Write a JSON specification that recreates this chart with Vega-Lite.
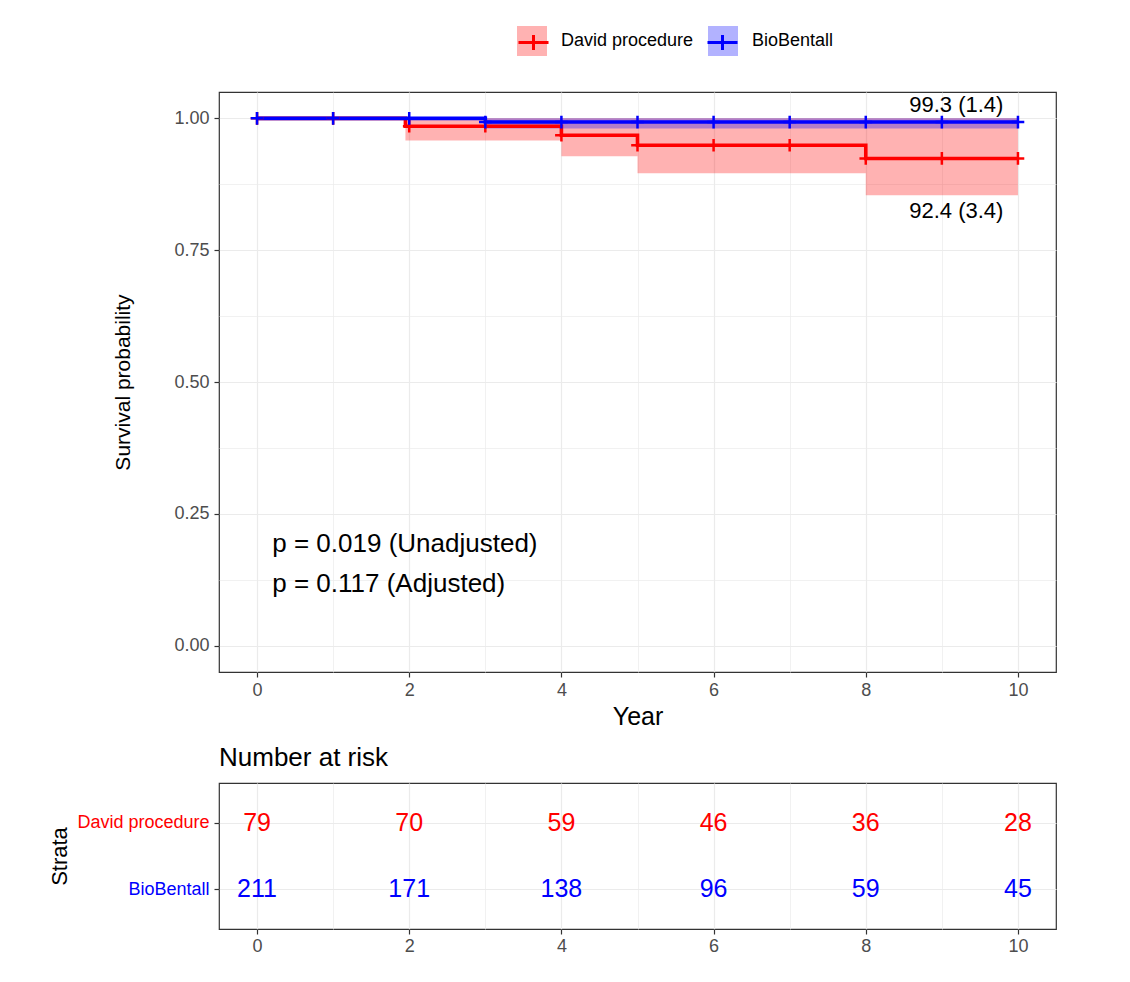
{
  "$schema": "https://vega.github.io/schema/vega-lite/v6.json",
  "padding": {"left": 48, "top": 25, "right": 10, "bottom": 10},
  "background": "white",
  "spacing": 14,
  "config": {
    "font": "Liberation Sans",
    "view": {"stroke": "#333333", "strokeWidth": 1.2},
    "axis": {
      "domain": false,
      "gridColor": "#ebebeb",
      "tickColor": "#333333",
      "tickSize": 5,
      "tickWidth": 1.2,
      "labelColor": "#4d4d4d",
      "labelFont": "Liberation Sans",
      "titleFont": "Liberation Sans",
      "titleColor": "#000000",
      "titleFontWeight": "normal",
      "labelOverlap": false
    },
    "title": {"font": "Liberation Sans", "fontWeight": "normal", "color": "#000000"}
  },
  "datasets": {
    "band": [
      {"group": "David procedure", "time": 1.95, "lower": 0.958, "upper": 1.0},
      {"group": "David procedure", "time": 4, "lower": 0.928, "upper": 1.0},
      {"group": "David procedure", "time": 5, "lower": 0.896, "upper": 1.0},
      {"group": "David procedure", "time": 8, "lower": 0.854, "upper": 1.0},
      {"group": "David procedure", "time": 10, "lower": 0.854, "upper": 1.0},
      {"group": "BioBentall", "time": 3, "lower": 0.981, "upper": 1.0},
      {"group": "BioBentall", "time": 10, "lower": 0.981, "upper": 1.0}
    ],
    "curve": [
      {"group": "David procedure", "time": 0, "surv": 1.0},
      {"group": "David procedure", "time": 1.95, "surv": 0.985},
      {"group": "David procedure", "time": 4, "surv": 0.968},
      {"group": "David procedure", "time": 5, "surv": 0.949},
      {"group": "David procedure", "time": 8, "surv": 0.924},
      {"group": "David procedure", "time": 10, "surv": 0.924},
      {"group": "BioBentall", "time": 0, "surv": 1.0},
      {"group": "BioBentall", "time": 3, "surv": 0.993},
      {"group": "BioBentall", "time": 10, "surv": 0.993}
    ],
    "censor": [
      {"group": "David procedure", "time": 0, "surv": 1.0},
      {"group": "David procedure", "time": 1, "surv": 1.0},
      {"group": "David procedure", "time": 2, "surv": 0.985},
      {"group": "David procedure", "time": 3, "surv": 0.985},
      {"group": "David procedure", "time": 4, "surv": 0.968},
      {"group": "David procedure", "time": 5, "surv": 0.949},
      {"group": "David procedure", "time": 6, "surv": 0.949},
      {"group": "David procedure", "time": 7, "surv": 0.949},
      {"group": "David procedure", "time": 8, "surv": 0.924},
      {"group": "David procedure", "time": 9, "surv": 0.924},
      {"group": "David procedure", "time": 10, "surv": 0.924},
      {"group": "BioBentall", "time": 0, "surv": 1.0},
      {"group": "BioBentall", "time": 1, "surv": 1.0},
      {"group": "BioBentall", "time": 2, "surv": 1.0},
      {"group": "BioBentall", "time": 3, "surv": 0.993},
      {"group": "BioBentall", "time": 4, "surv": 0.993},
      {"group": "BioBentall", "time": 5, "surv": 0.993},
      {"group": "BioBentall", "time": 6, "surv": 0.993},
      {"group": "BioBentall", "time": 7, "surv": 0.993},
      {"group": "BioBentall", "time": 8, "surv": 0.993},
      {"group": "BioBentall", "time": 9, "surv": 0.993},
      {"group": "BioBentall", "time": 10, "surv": 0.993}
    ],
    "endlabels": [
      {"time": 9.19, "surv": 1.025, "label": "99.3 (1.4)"},
      {"time": 9.19, "surv": 0.824, "label": "92.4 (3.4)"}
    ],
    "pvalues": [
      {"time": 0.2, "surv": 0.193, "label": "p = 0.019 (Unadjusted)"},
      {"time": 0.2, "surv": 0.117, "label": "p = 0.117 (Adjusted)"}
    ],
    "risk": [
      {"group": "David procedure", "time": 0, "n": 79},
      {"group": "David procedure", "time": 2, "n": 70},
      {"group": "David procedure", "time": 4, "n": 59},
      {"group": "David procedure", "time": 6, "n": 46},
      {"group": "David procedure", "time": 8, "n": 36},
      {"group": "David procedure", "time": 10, "n": 28},
      {"group": "BioBentall", "time": 0, "n": 211},
      {"group": "BioBentall", "time": 2, "n": 171},
      {"group": "BioBentall", "time": 4, "n": 138},
      {"group": "BioBentall", "time": 6, "n": 96},
      {"group": "BioBentall", "time": 8, "n": 59},
      {"group": "BioBentall", "time": 10, "n": 45}
    ]
  },
  "resolve": {
    "scale": {"fill": "independent", "stroke": "independent", "color": "independent"},
    "legend": {"fill": "independent", "stroke": "independent", "color": "independent"}
  },
  "vconcat": [
    {
      "width": 837,
      "height": 580,
      "encoding": {
        "x": {
          "field": "time",
          "type": "quantitative",
          "scale": {"domain": [-0.5, 10.5], "nice": false, "zero": false},
          "axis": {
            "values": [0, 1, 2, 3, 4, 5, 6, 7, 8, 9, 10],
            "labelExpr": "datum.value % 2 == 0 ? datum.label : ''",
            "tickOpacity": {"condition": {"test": "datum.value % 2 != 0", "value": 0}, "value": 1},
            "gridWidth": {"condition": {"test": "datum.value % 2 != 0", "value": 0.7}, "value": 1.2},
            "title": "Year",
            "titleFontSize": 25,
            "labelFontSize": 18,
            "labelPadding": 4,
            "titlePadding": 5
          }
        },
        "y": {
          "field": "surv",
          "type": "quantitative",
          "scale": {"domain": [-0.05, 1.05], "nice": false, "zero": false},
          "axis": {
            "values": [0, 0.125, 0.25, 0.375, 0.5, 0.625, 0.75, 0.875, 1],
            "labelExpr": "(datum.value * 4) % 1 == 0 ? format(datum.value, '.2f') : ''",
            "tickOpacity": {"condition": {"test": "(datum.value * 4) % 1 != 0", "value": 0}, "value": 1},
            "gridWidth": {"condition": {"test": "(datum.value * 4) % 1 != 0", "value": 0.7}, "value": 1.2},
            "title": "Survival probability",
            "titleFontSize": 21,
            "labelFontSize": 18,
            "labelPadding": 5,
            "titlePadding": 40
          }
        }
      },
      "layer": [
        {
          "data": {"name": "band"},
          "mark": {"type": "area", "interpolate": "step-after"},
          "encoding": {
            "y": {"field": "lower", "type": "quantitative"},
            "y2": {"field": "upper"},
            "fill": {
              "field": "group",
              "type": "nominal",
              "scale": {"domain": ["David procedure", "BioBentall"], "range": ["rgba(255,0,0,0.3)", "rgba(0,0,255,0.3)"]},
              "legend": {
                "orient": "none",
                "legendX": 298,
                "legendY": -66,
                "direction": "horizontal",
                "title": null,
                "symbolType": "square",
                "symbolSize": 900,
                "symbolStrokeWidth": 0,
                "labelFontSize": 18,
                "labelColor": "#000000",
                "labelOffset": 14,
                "columnPadding": 14,
                "padding": 0
              }
            }
          }
        },
        {
          "data": {"name": "curve"},
          "mark": {"type": "line", "interpolate": "step-after", "strokeWidth": 3.6},
          "encoding": {
            "stroke": {
              "field": "group",
              "type": "nominal",
              "sort": ["David procedure", "BioBentall"],
              "scale": {"range": ["#ff0000", "#0000ff"]},
              "legend": {
                "orient": "none",
                "legendX": 298,
                "legendY": -66,
                "direction": "horizontal",
                "title": null,
                "symbolType": "M-1,0H1M0,-0.5V0.5",
                "symbolSize": 900,
                "symbolStrokeWidth": 3,
                "symbolFillColor": "transparent",
                "labelExpr": "''",
                "labelFontSize": 18,
                "labelOffset": 14,
                "columnPadding": 137,
                "padding": 0
              }
            }
          }
        },
        {
          "data": {"name": "censor"},
          "mark": {"type": "point", "shape": "M-1,0H1M0,-1V1", "size": 160, "filled": false, "strokeWidth": 2.5, "opacity": 1},
          "encoding": {
            "stroke": {"field": "group", "type": "nominal", "sort": ["David procedure", "BioBentall"]}
          }
        },
        {
          "data": {"name": "endlabels"},
          "mark": {"type": "text", "fontSize": 22, "align": "center", "baseline": "middle", "color": "#000000"},
          "encoding": {"text": {"field": "label"}}
        },
        {
          "data": {"name": "pvalues"},
          "mark": {"type": "text", "fontSize": 26, "align": "left", "baseline": "middle", "color": "#000000"},
          "encoding": {"text": {"field": "label"}}
        }
      ]
    },
    {
      "width": 837,
      "height": 146,
      "data": {"name": "risk"},
      "title": {"text": "Number at risk", "anchor": "start", "fontSize": 26, "offset": 12, "frame": "group"},
      "mark": {"type": "text", "fontSize": 25, "baseline": "middle"},
      "encoding": {
        "x": {
          "field": "time",
          "type": "quantitative",
          "scale": {"domain": [-0.5, 10.5], "nice": false, "zero": false},
          "axis": {
            "values": [0, 1, 2, 3, 4, 5, 6, 7, 8, 9, 10],
            "labelExpr": "datum.value % 2 == 0 ? datum.label : ''",
            "tickOpacity": {"condition": {"test": "datum.value % 2 != 0", "value": 0}, "value": 1},
            "gridWidth": {"condition": {"test": "datum.value % 2 != 0", "value": 0.7}, "value": 1.2},
            "title": null,
            "labelFontSize": 18,
            "labelPadding": 3
          }
        },
        "y": {
          "field": "group",
          "type": "nominal",
          "sort": ["David procedure", "BioBentall"],
          "scale": {"type": "point", "padding": 0.6},
          "axis": {
            "title": "Strata",
            "titleFontSize": 22,
            "labelFontSize": 18,
            "labelPadding": 5,
            "labelColor": {"condition": {"test": "datum.value == 'BioBentall'", "value": "#0000ff"}, "value": "#ff0000"},
            "grid": true,
            "gridWidth": 1.2,
            "titlePadding": 5
          }
        },
        "color": {
          "field": "group",
          "type": "nominal",
          "scale": {"domain": ["David procedure", "BioBentall"], "range": ["#ff0000", "#0000ff"]},
          "legend": null
        },
        "text": {"field": "n", "type": "quantitative"}
      }
    }
  ]
}
